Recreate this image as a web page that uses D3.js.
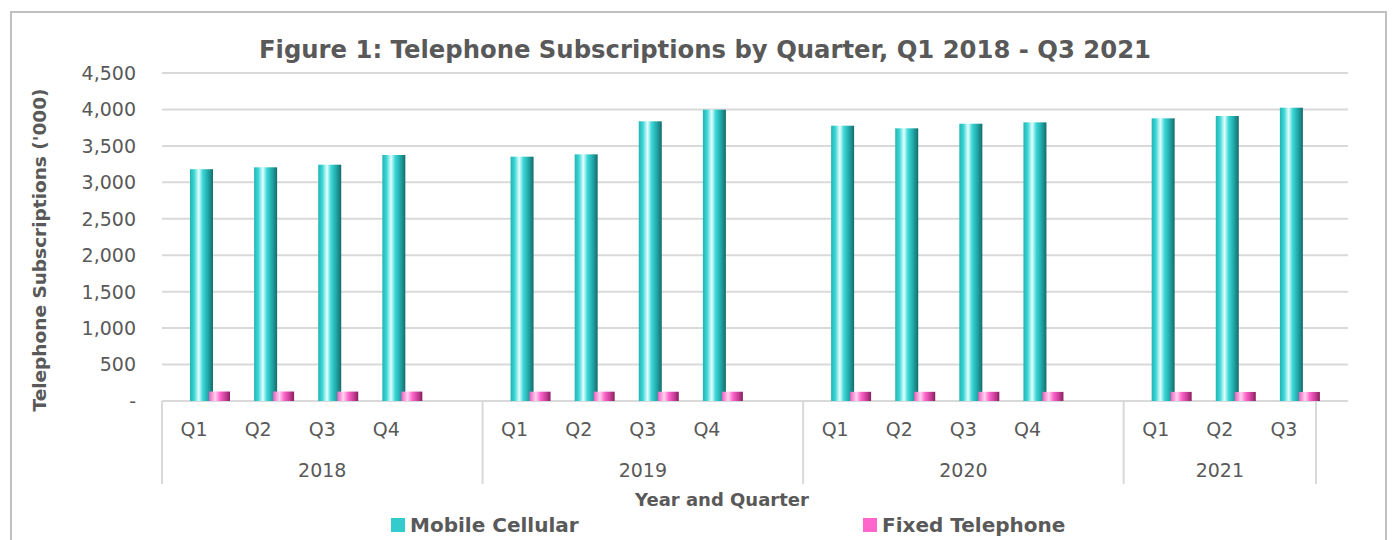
<!DOCTYPE html>
<html>
<head>
<meta charset="utf-8">
<script src="https://cdn.jsdelivr.net/npm/d3@7"></script>
<style>
  body { margin: 0; background: #fff; }
  svg { display: block; font-family: "DejaVu Sans", sans-serif; }
</style>
</head>
<body>
<svg width="1394" height="540"></svg>
<script>
// data ('000)
const years = ["2018", "2019", "2020", "2021"];
const quarters = ["Q1", "Q2", "Q3", "Q4"];
const quartersPerYear = [4, 4, 4, 3];
const mobileCellular = [3180, 3206, 3242, 3375, 3352, 3384, 3837, 3997, 3777, 3741, 3804, 3823, 3878, 3910, 4024];
const fixedTelephone = [130, 130, 129, 129, 128, 128, 127, 127, 126, 126, 126, 125, 125, 124, 124];
const yTicks = [0, 500, 1000, 1500, 2000, 2500, 3000, 3500, 4000, 4500];

const svg = d3.select("svg"),
  width = 1394,
  height = 540;
const textColor = "#595959";

// category slots: each year gets its quarters, plus an empty slot after full years
var slots = [], points = [];
var k = 0;
years.forEach((y, yi) => {
  for (let q = 0; q < quartersPerYear[yi]; q++) {
    const key = y + "-" + quarters[q];
    slots.push(key);
    points.push({ key: key, year: y, q: quarters[q], mobile: mobileCellular[k], fixed: fixedTelephone[k] });
    k++;
  }
  if (quartersPerYear[yi] === 4) slots.push(y + "-blank");
});

const x = d3.scaleBand().domain(slots).range([162, 1316]).padding(0);
const y = d3.scaleLinear().domain([0, 4500]).range([401, 73]);
const bw = x.bandwidth();

// outer frame
svg.append("rect")
  .attr("x", 11).attr("y", 12).attr("width", 1375).attr("height", 540)
  .attr("fill", "none").attr("stroke", "#c0c0c0").attr("stroke-width", 2);

// gradients for the cylinder look
const defs = svg.append("defs");
function cyl(id, stops) {
  const g = defs.append("linearGradient").attr("id", id)
    .attr("x1", "0%").attr("x2", "100%").attr("y1", "0%").attr("y2", "0%");
  stops.forEach(s => g.append("stop").attr("offset", s[0]).attr("stop-color", s[1]));
}
cyl("gMobile", [["0%", "#23b3b3"], ["18%", "#3ad6d6"], ["38%", "#e6ffff"], ["55%", "#3ed9d9"], ["80%", "#1fa3a3"], ["100%", "#166b6b"]]);
cyl("gFixed", [["0%", "#ee5cbf"], ["30%", "#ffd3f0"], ["52%", "#ff66cc"], ["82%", "#c0398f"], ["100%", "#862060"]]);

// gridlines
svg.append("g").selectAll("line")
  .data(yTicks)
  .enter().append("line")
  .attr("x1", 162).attr("x2", 1348)
  .attr("y1", d => y(d)).attr("y2", d => y(d))
  .attr("stroke", "#d9d9d9").attr("stroke-width", 2);

// y tick labels
svg.append("g").selectAll("text")
  .data(yTicks)
  .enter().append("text")
  .attr("x", 136).attr("y", d => y(d))
  .attr("dy", "0.36em")
  .attr("text-anchor", "end")
  .attr("font-size", 19)
  .attr("fill", textColor)
  .text(d => d === 0 ? "-" : d3.format(",")(d));

// bars
const bars = svg.append("g");
bars.selectAll("rect.mobile")
  .data(points)
  .enter().append("rect")
  .attr("class", "mobile")
  .attr("x", d => x(d.key) + 28)
  .attr("width", 23)
  .attr("y", d => y(d.mobile))
  .attr("height", d => y(0) - y(d.mobile))
  .attr("fill", "url(#gMobile)");
bars.selectAll("rect.fixed")
  .data(points)
  .enter().append("rect")
  .attr("class", "fixed")
  .attr("x", d => x(d.key) + 47)
  .attr("width", 21)
  .attr("y", d => y(d.fixed))
  .attr("height", d => y(0) - y(d.fixed))
  .attr("fill", "url(#gFixed)");

// category axis: quarter labels, year labels and dividers
const axis = svg.append("g");
axis.selectAll("text.q")
  .data(points)
  .enter().append("text")
  .attr("x", d => x(d.key) + bw / 2)
  .attr("y", 436)
  .attr("text-anchor", "middle")
  .attr("font-size", 19)
  .attr("fill", textColor)
  .text(d => d.q);

var yearSpans = years.map(yr => {
  const keys = slots.filter(s => s.startsWith(yr));
  return { year: yr, x0: x(keys[0]), x1: x(keys[keys.length - 1]) + bw };
});
axis.selectAll("text.yr")
  .data(yearSpans)
  .enter().append("text")
  .attr("x", d => (d.x0 + d.x1) / 2)
  .attr("y", 477)
  .attr("text-anchor", "middle")
  .attr("font-size", 19)
  .attr("fill", textColor)
  .text(d => d.year);

var dividers = [yearSpans[0].x0].concat(yearSpans.map(d => d.x1));
axis.selectAll("line.div")
  .data(dividers)
  .enter().append("line")
  .attr("x1", d => d).attr("x2", d => d)
  .attr("y1", 401).attr("y2", 484)
  .attr("stroke", "#d9d9d9").attr("stroke-width", 2);

// titles
svg.append("text")
  .attr("x", 705).attr("y", 58)
  .attr("text-anchor", "middle")
  .attr("font-size", 24.3).attr("font-weight", "bold")
  .attr("fill", textColor)
  .text("Figure 1: Telephone Subscriptions by Quarter, Q1 2018 - Q3 2021");

svg.append("text")
  .attr("transform", "translate(46,250) rotate(-90)")
  .attr("text-anchor", "middle")
  .attr("font-size", 18.5).attr("font-weight", "bold")
  .attr("fill", textColor)
  .text("Telephone Subscriptions ('000)");

svg.append("text")
  .attr("x", 722).attr("y", 506)
  .attr("text-anchor", "middle")
  .attr("font-size", 18).attr("font-weight", "bold")
  .attr("fill", textColor)
  .text("Year and Quarter");

// legend
const legendItems = [
  { name: "Mobile Cellular", color: "#33cccc", x: 391 },
  { name: "Fixed Telephone", color: "#ff66cc", x: 863 }
];
const legend = svg.append("g").selectAll("g")
  .data(legendItems)
  .enter().append("g")
  .attr("transform", d => "translate(" + d.x + ",518)");
legend.append("rect")
  .attr("width", 14).attr("height", 14)
  .attr("fill", d => d.color);
legend.append("text")
  .attr("x", 19).attr("y", 14)
  .attr("font-size", 20).attr("font-weight", "bold")
  .attr("fill", textColor)
  .text(d => d.name);
</script>
</body>
</html>
